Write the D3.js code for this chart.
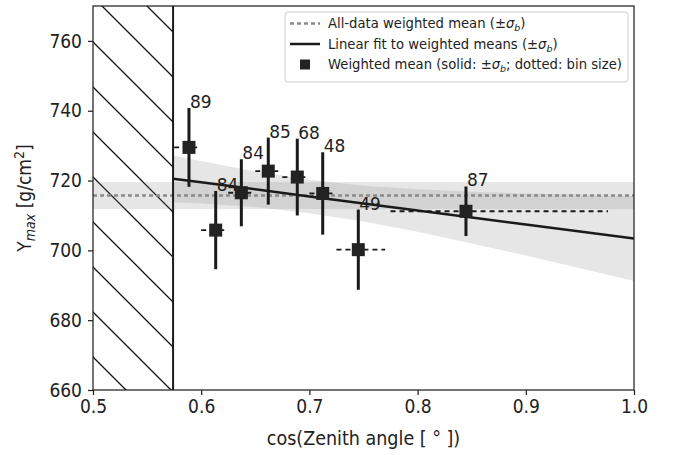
<!DOCTYPE html>
<html>
<head>
<meta charset="utf-8">
<style>
  body { margin: 0; background: #fff; }
  svg { display: block; font-family: "DejaVu Sans", sans-serif; }
  .axis text { font-family: "DejaVu Sans Condensed", "DejaVu Sans", sans-serif; font-size: 19px; fill: #222; }
  .axis line { stroke: #222; stroke-width: 1.25; }
  .axis path { display: none; }
</style>
</head>
<body>
<svg id="chart" width="675" height="455"></svg>
<script src="https://d3js.org/d3.v7.min.js"></script>
<script>
  // weighted means per zenith bin
  const counts = [89, 84, 84, 85, 68, 48, 49, 87];
  const cosZen = [0.5887, 0.6134, 0.6371, 0.6620, 0.6888, 0.7123, 0.7452, 0.8447];
  const yMax   = [729.5, 705.8, 716.5, 722.7, 721.0, 716.3, 700.2, 711.2];
  const sigmaB = [11.3, 11.2, 9.6, 9.6, 11.0, 11.8, 11.5, 7.1];
  const binLo  = [0.575, 0.600, 0.625, 0.650, 0.675, 0.700, 0.725, 0.775];
  const binHi  = [0.600, 0.625, 0.650, 0.675, 0.700, 0.725, 0.770, 0.976];

  // all-data weighted mean and its sigma
  const allMean = 715.7;
  const allSigma = 3.85;

  // cut on cos(zenith)
  const cosCut = 0.574;

  // linear fit and its band
  const fitX  = [0.574, 0.60, 0.65, 0.70, 0.75, 0.80, 0.85, 0.90, 0.95, 1.00];
  const fitY  = [720.5, 719.5, 717.5, 715.4, 713.4, 711.4, 709.4, 707.4, 705.4, 703.4];
  const fitHi = [727.2, 725.6, 722.6, 720.2, 718.5, 717.5, 716.8, 716.3, 715.9, 715.6];
  const fitLo = [713.8, 713.4, 712.4, 710.6, 708.3, 705.3, 702.0, 698.5, 694.9, 691.2];

  const xTicks = [0.5, 0.6, 0.7, 0.8, 0.9, 1.0];
  const yTicks = [660, 680, 700, 720, 740, 760];

  const W = 675, H = 455;
  const x = d3.scaleLinear().domain([0.5, 1.0]).range([93, 634]);
  const y = d3.scaleLinear().domain([660, 770]).range([390, 6]);

  const svg = d3.select("#chart");
  svg.append("rect").attr("width", W).attr("height", H).attr("fill", "#fff");

  const defs = svg.append("defs");
  defs.append("clipPath").attr("id", "plot")
    .append("rect")
    .attr("x", x(0.5)).attr("y", y(770))
    .attr("width", x(1.0) - x(0.5)).attr("height", y(660) - y(770));

  const pat = defs.append("pattern")
    .attr("id", "hatch")
    .attr("patternUnits", "userSpaceOnUse")
    .attr("x", 6).attr("y", 0)
    .attr("width", 45).attr("height", 45);
  pat.append("path")
    .attr("d", "M0,0L45,45M-5,40L5,50M40,-5L50,5")
    .attr("stroke", "#111").attr("stroke-width", 1.3);

  const g = svg.append("g").attr("clip-path", "url(#plot)");

  // excluded region
  g.append("rect")
    .attr("x", x(0.5)).attr("y", y(770))
    .attr("width", x(cosCut) - x(0.5)).attr("height", y(660) - y(770))
    .attr("fill", "url(#hatch)");

  // all-data band
  g.append("rect")
    .attr("x", x(0.5)).attr("y", y(allMean + allSigma))
    .attr("width", x(1.0) - x(0.5))
    .attr("height", y(allMean - allSigma) - y(allMean + allSigma))
    .attr("fill", "#808080").attr("fill-opacity", 0.2);

  // fit band
  const fitRows = fitX.map((v, i) => ({ x: v, y: fitY[i], lo: fitLo[i], hi: fitHi[i] }));
  g.append("path")
    .datum(fitRows)
    .attr("d", d3.area().x(d => x(d.x)).y0(d => y(d.lo)).y1(d => y(d.hi)))
    .attr("fill", "#808080").attr("fill-opacity", 0.2);

  // all-data mean line
  g.append("line")
    .attr("x1", x(0.5)).attr("x2", x(1.0))
    .attr("y1", y(allMean)).attr("y2", y(allMean))
    .attr("stroke", "#8a8a8a").attr("stroke-width", 2.5)
    .attr("stroke-dasharray", "4,3");

  // fit line
  g.append("path")
    .datum(fitRows)
    .attr("d", d3.line().x(d => x(d.x)).y(d => y(d.y)))
    .attr("fill", "none").attr("stroke", "#1a1a1a").attr("stroke-width", 2.5);

  // cut line
  g.append("line")
    .attr("x1", x(cosCut)).attr("x2", x(cosCut))
    .attr("y1", y(770)).attr("y2", y(660))
    .attr("stroke", "#1a1a1a").attr("stroke-width", 2);

  const pts = counts.map((n, i) => ({
    n, x: cosZen[i], y: yMax[i], s: sigmaB[i], lo: binLo[i], hi: binHi[i]
  }));

  // bin size
  g.selectAll(".bin").data(pts).enter().append("line")
    .attr("class", "bin")
    .attr("x1", d => x(d.lo)).attr("x2", d => x(d.hi))
    .attr("y1", d => y(d.y)).attr("y2", d => y(d.y))
    .attr("stroke", "#1a1a1a").attr("stroke-width", 1.8)
    .attr("stroke-dasharray", "5,4");

  // sigma bars
  g.selectAll(".err").data(pts).enter().append("line")
    .attr("class", "err")
    .attr("x1", d => x(d.x)).attr("x2", d => x(d.x))
    .attr("y1", d => y(d.y - d.s)).attr("y2", d => y(d.y + d.s))
    .attr("stroke", "#1a1a1a").attr("stroke-width", 3);

  const ms = 13;
  g.selectAll(".mk").data(pts).enter().append("rect")
    .attr("class", "mk")
    .attr("x", d => x(d.x) - ms / 2).attr("y", d => y(d.y) - ms / 2)
    .attr("width", ms).attr("height", ms)
    .attr("fill", "#222");

  g.selectAll(".cnt").data(pts).enter().append("text")
    .attr("class", "cnt")
    .attr("x", d => x(d.x) + 1).attr("y", d => y(d.y + d.s))
    .attr("font-size", 17).attr("fill", "#222")
    .text(d => d.n);

  // axes
  svg.append("g").attr("class", "axis")
    .attr("transform", `translate(0,${y(660)})`)
    .call(d3.axisBottom(x).tickValues(xTicks).tickFormat(d3.format(".1f")).tickSize(5).tickPadding(5));
  svg.append("g").attr("class", "axis")
    .attr("transform", `translate(${x(0.5)},0)`)
    .call(d3.axisLeft(y).tickValues(yTicks).tickSize(5).tickPadding(6));

  svg.append("rect")
    .attr("x", x(0.5)).attr("y", y(770))
    .attr("width", x(1.0) - x(0.5)).attr("height", y(660) - y(770))
    .attr("fill", "none").attr("stroke", "#222").attr("stroke-width", 1.25);

  const labFont = '"DejaVu Sans Condensed", "DejaVu Sans", sans-serif';
  svg.append("text")
    .attr("x", (x(0.5) + x(1.0)) / 2).attr("y", 445)
    .attr("text-anchor", "middle")
    .attr("font-family", labFont).attr("font-size", 19.5).attr("fill", "#222")
    .text("cos(Zenith angle [ ° ])");

  const yl = svg.append("text")
    .attr("transform", `translate(31,${(y(660) + y(770)) / 2}) rotate(-90)`)
    .attr("text-anchor", "middle")
    .attr("font-family", labFont).attr("font-size", 19).attr("fill", "#222");
  yl.append("tspan").text("Y");
  yl.append("tspan").attr("font-style", "italic").attr("font-size", 14).attr("dy", 4).text("max");
  yl.append("tspan").attr("dy", -4).text(" [g/cm");
  yl.append("tspan").attr("font-size", 14).attr("dy", -7).text("2");
  yl.append("tspan").attr("dy", 7).text("]");

  // legend
  const lg = svg.append("g").attr("transform", "translate(285,12)");
  lg.append("rect")
    .attr("width", 343).attr("height", 70).attr("rx", 3)
    .attr("fill", "#fff").attr("fill-opacity", 0.85)
    .attr("stroke", "#cccccc").attr("stroke-width", 1);

  const rows = [
    { kind: "dash", parts: ["All-data weighted mean (±", "σ", "b", ")"] },
    { kind: "line", parts: ["Linear fit to weighted means (±", "σ", "b", ")"] },
    { kind: "mark", parts: ["Weighted mean (solid: ±", "σ", "b", "; dotted: bin size)"] }
  ];
  rows.forEach((r, i) => {
    const cy = 11.5 + i * 20.5;
    if (r.kind === "dash") {
      lg.append("line").attr("x1", 5).attr("x2", 35).attr("y1", cy).attr("y2", cy)
        .attr("stroke", "#8a8a8a").attr("stroke-width", 2.5).attr("stroke-dasharray", "4,3");
    } else if (r.kind === "line") {
      lg.append("line").attr("x1", 5).attr("x2", 35).attr("y1", cy).attr("y2", cy)
        .attr("stroke", "#1a1a1a").attr("stroke-width", 2.5);
    } else {
      lg.append("rect").attr("x", 15).attr("y", cy - 5).attr("width", 10).attr("height", 10)
        .attr("fill", "#222");
    }
    const t = lg.append("text").attr("x", 43).attr("y", cy + 4.5)
      .attr("font-size", 13.2).attr("fill", "#222");
    t.append("tspan").text(r.parts[0]);
    t.append("tspan").attr("font-style", "italic").text(r.parts[1]);
    t.append("tspan").attr("font-style", "italic").attr("font-size", 9.5).attr("dy", 3).text(r.parts[2]);
    t.append("tspan").attr("dy", -3).text(r.parts[3]);
  });
</script>
</body>
</html>
